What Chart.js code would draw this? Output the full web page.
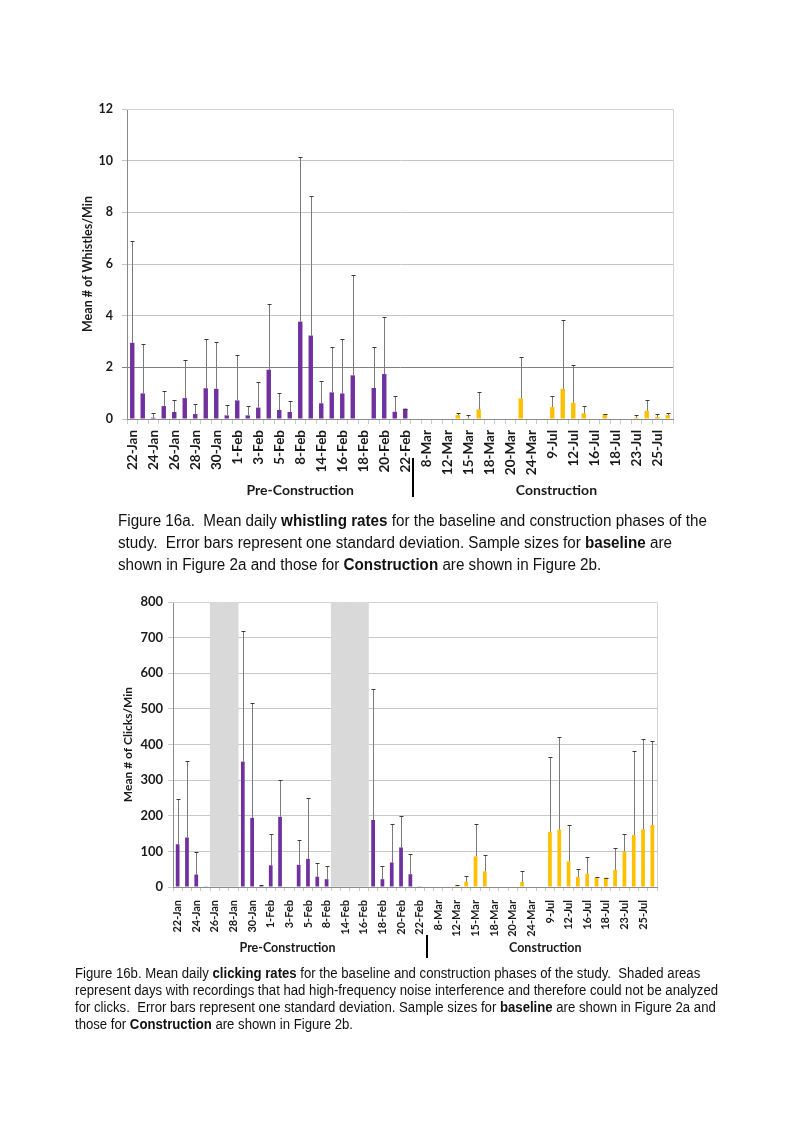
<!DOCTYPE html>
<html>
<head>
<meta charset="utf-8">
<script src="https://cdn.jsdelivr.net/npm/chart.js@4.4.1/dist/chart.umd.min.js"></script>
<style>
  html, body { margin: 0; padding: 0; background: #fff; }
  body { width: 793px; height: 1123px; position: relative; overflow: hidden; }
  canvas { position: absolute; left: 0; }
  #whistles { top: 0; }
  #clicks { top: 575px; }
  .caption { position: absolute; font-family: "Liberation Sans", Arial, sans-serif; color: #111; white-space: nowrap; transform-origin: 0 0; }
  #cap1 { left: 118px; top: 510px; font-size: 16px; line-height: 22px; transform: scaleX(0.95); }
  #cap2 { left: 75px; top: 965px; font-size: 14px; line-height: 17px; transform: scaleX(0.94); }
</style>
</head>
<body>
<canvas id="whistles" width="793" height="505"></canvas>
<canvas id="clicks" width="793" height="395"></canvas>
<div class="caption" id="cap1">Figure 16a.&nbsp; Mean daily <b>whistling rates</b> for the baseline and construction phases of the<br>study.&nbsp; Error bars represent one standard deviation. Sample sizes for <b>baseline</b> are<br>shown in Figure 2a and those for <b>Construction</b> are shown in Figure 2b.</div>
<div class="caption" id="cap2">Figure 16b. Mean daily <b>clicking rates</b> for the baseline and construction phases of the study.&nbsp; Shaded areas<br>represent days with recordings that had high-frequency noise interference and therefore could not be analyzed<br>for clicks.&nbsp; Error bars represent one standard deviation. Sample sizes for <b>baseline</b> are shown in Figure 2a and<br>those for <b>Construction</b> are shown in Figure 2b.</div>
<script>
// recording days, only every other one is labelled on the axis
const days = [
  '22-Jan', '', '24-Jan', '', '26-Jan', '', '28-Jan', '', '30-Jan', '', '1-Feb', '', '3-Feb', '',
  '5-Feb', '', '8-Feb', '', '14-Feb', '', '16-Feb', '', '18-Feb', '', '20-Feb', '', '22-Feb', '',
  '8-Mar', '', '12-Mar', '', '15-Mar', '', '18-Mar', '', '20-Mar', '', '24-Mar', '',
  '9-Jul', '', '12-Jul', '', '16-Jul', '', '18-Jul', '', '23-Jul', '', '25-Jul', ''
]
const phases = ['Pre-Construction', 'Construction']

// Fig 16a - whistles/min, mean and one standard deviation
const whistleBase = [
  2.95, 0.99, 0.05, 0.50, 0.27, 0.81, 0.19, 1.19, 1.17, 0.14, 0.72, 0.14, 0.44, 1.91,
  0.35, 0.27, 3.77, 3.23, 0.61, 1.03, 0.99, 1.69, null, 1.20, 1.74, 0.28, 0.40, null,
  null, null, null, null, null, null, null, null, null, null, null, null,
  null, null, null, null, null, null, null, null, null, null, null, null
]
const whistleBaseSd = [
  3.95, 1.93, 0.17, 0.58, 0.47, 1.47, 0.38, 1.89, 1.80, 0.40, 1.76, 0.38, 1.01, 2.53,
  0.67, 0.43, 6.38, 5.39, 0.86, 1.74, 2.09, 3.88, null, 1.57, 2.21, 0.62, 0.00, null,
  null, null, null, null, null, null, null, null, null, null, null, null,
  null, null, null, null, null, null, null, null, null, null, null, null
]
const whistleCons = [
  null, null, null, null, null, null, null, null, null, null, null, null, null, null,
  null, null, null, null, null, null, null, null, null, null, null, null, null, null,
  null, null, null, 0.15, 0.03, 0.37, null, null, null, 0.80, null, null,
  0.46, 1.17, 0.63, 0.22, null, 0.19, null, null, 0.05, 0.32, 0.08, 0.15
]
const whistleConsSd = [
  null, null, null, null, null, null, null, null, null, null, null, null, null, null,
  null, null, null, null, null, null, null, null, null, null, null, null, null, null,
  null, null, null, 0.10, 0.11, 0.68, null, null, null, 1.59, null, null,
  0.43, 2.65, 1.47, 0.28, null, 0.02, null, null, 0.12, 0.40, 0.12, 0.10
]

// Fig 16b - clicks/min, mean and one standard deviation
const clickBase = [
  120, 139, 35, 2, null, null, null, 352, 194, 3, 61, 197, null, 62,
  79, 29, 22, null, null, null, null, 188, 22, 69, 111, 36, 2, null,
  null, null, null, null, null, null, null, null, null, null, null, null,
  null, null, null, null, null, null, null, null, null, null, null, null
]
const clickBaseSd = [
  126, 214, 62, null, null, null, null, 367, 322, 3, 89, 102, null, 69,
  172, 38, 38, null, null, null, null, 368, 37, 109, 88, 56, null, null,
  null, null, null, null, null, null, null, null, null, null, null, null,
  null, null, null, null, null, null, null, null, null, null, null, null
]
const clickCons = [
  null, null, null, null, null, null, null, null, null, null, null, null, null, null,
  null, null, null, null, null, null, null, null, null, null, null, null, null, null,
  null, 1, 3, 15, 86, 44, null, null, null, 14, null, null,
  155, 161, 72, 28, 37, 27, 26, 48, 100, 146, 162, 174
]
const clickConsSd = [
  null, null, null, null, null, null, null, null, null, null, null, null, null, null,
  null, null, null, null, null, null, null, null, null, null, null, null, null, null,
  null, null, 2, 17, 90, 46, null, null, null, 30, null, null,
  210, 259, 103, 23, 47, 1, 0, 61, 50, 236, 253, 236
]
// days with high-frequency noise (shaded, clicks not analysed)
const noisyDays = [
  null, null, null, null, 800, 800, 800, null, null, null, null, null, null, null,
  null, null, null, 800, 800, 800, 800, null, null, null, null, null, null, null,
  null, null, null, null, null, null, null, null, null, null, null, null,
  null, null, null, null, null, null, null, null, null, null, null, null
]

const PURPLE = '#7030A0'
const GOLD = '#FFC000'

const errorBars = {
  id: 'errorBars',
  afterDatasetsDraw(chart) {
    const ctx = chart.ctx
    const y = chart.scales.y
    chart.data.datasets.forEach((ds, i) => {
      if (!ds.sd) return
      chart.getDatasetMeta(i).data.forEach((bar, j) => {
        const v = ds.data[j], s = ds.sd[j]
        if (v == null || s == null) return
        const x = Math.round(bar.x) + 0.5
        const top = Math.round(y.getPixelForValue(v + s)) + 0.5
        ctx.save()
        ctx.lineWidth = 1
        ctx.strokeStyle = '#7a7a7a'
        ctx.beginPath()
        ctx.moveTo(x, bar.y)
        ctx.lineTo(x, top)
        ctx.stroke()
        ctx.strokeStyle = '#3a3a3a'
        ctx.beginPath()
        ctx.moveTo(x - 2, top)
        ctx.lineTo(x + 2, top)
        ctx.stroke()
        ctx.restore()
      })
    })
  }
}

const plotFrame = {
  id: 'plotFrame',
  beforeDatasetsDraw(chart) {
    const { ctx, chartArea: a } = chart
    ctx.save()
    ctx.strokeStyle = '#d4d4d4'
    ctx.lineWidth = 1
    ctx.beginPath()
    ctx.moveTo(a.left, a.top + 0.5)
    ctx.lineTo(Math.round(a.right) + 0.5, a.top + 0.5)
    ctx.lineTo(Math.round(a.right) + 0.5, a.bottom)
    ctx.stroke()
    ctx.restore()
  }
}

const phaseLabels = {
  id: 'phaseLabels',
  afterDraw(chart, args, opts) {
    const ctx = chart.ctx
    const x = chart.scales.x
    ctx.save()
    ctx.font = opts.font
    ctx.fillStyle = '#1a1a1a'
    ctx.textAlign = 'center'
    ctx.textBaseline = 'middle'
    phases.forEach((p, k) => ctx.fillText(p, x.getPixelForValue(opts.at[k]), opts.y))
    const sx = Math.round(x.getPixelForValue(opts.divider))
    ctx.fillStyle = '#000'
    ctx.fillRect(sx - 1, opts.dividerTop, 2, opts.dividerBottom - opts.dividerTop)
    ctx.restore()
  }
}

const font = (size, weight) => ({ family: 'Lato, "Open Sans", sans-serif', size: size, weight: weight })

const configWhistles = {
  type: 'bar',
  data: {
    labels: days,
    datasets: [
      { data: whistleBase, sd: whistleBaseSd, backgroundColor: PURPLE, grouped: false },
      { data: whistleCons, sd: whistleConsSd, backgroundColor: GOLD, grouped: false }
    ]
  },
  options: {
    responsive: false,
    animation: false,
    barPercentage: 0.42,
    categoryPercentage: 1,
    layout: { padding: { left: 60, right: 120, top: 109, bottom: 26 } },
    plugins: {
      legend: { display: false },
      tooltip: { enabled: false },
      phaseLabels: { at: [16, 40.4], y: 490, divider: 26.75, dividerTop: 458, dividerBottom: 497, font: 'bold 14px Lato, sans-serif' }
    },
    scales: {
      x: {
        afterFit: s => { s.height = 60 },
        grid: { drawOnChartArea: false, drawTicks: true, tickLength: 5, color: '#c9c9c9' },
        border: { color: '#8c8c8c' },
        ticks: { autoSkip: false, maxRotation: 90, minRotation: 90, padding: 6, color: '#1a1a1a', font: font(13.5, 'bold') }
      },
      y: {
        min: 0, max: 12,
        afterFit: s => { s.width = 67 },
        grid: { color: c => c.tick && c.tick.value === 2 ? '#7f7f7f' : '#c4c4c4', tickLength: 5 },
        border: { color: '#8c8c8c' },
        ticks: { stepSize: 2, padding: 9, color: '#1a1a1a', font: font(12.5, 'bold') },
        title: { display: true, text: 'Mean # of Whistles/Min', color: '#1a1a1a', font: font(12.5, 'bold'), padding: { top: 20, bottom: 0 } }
      }
    }
  },
  plugins: [plotFrame, errorBars, phaseLabels]
}

const configClicks = {
  type: 'bar',
  data: {
    labels: days,
    datasets: [
      { data: noisyDays, backgroundColor: '#D9D9D9', grouped: false, barPercentage: 1, order: 3 },
      { data: clickBase, sd: clickBaseSd, backgroundColor: PURPLE, grouped: false, order: 1 },
      { data: clickCons, sd: clickConsSd, backgroundColor: GOLD, grouped: false, order: 1 }
    ]
  },
  options: {
    responsive: false,
    animation: false,
    barPercentage: 0.4,
    categoryPercentage: 1,
    layout: { padding: { left: 110, right: 136, top: 27, bottom: 23 } },
    plugins: {
      legend: { display: false },
      tooltip: { enabled: false },
      phaseLabels: { at: [11.8, 39.5], y: 373, divider: 26.75, dividerTop: 360, dividerBottom: 383, font: 'bold 12.5px Lato, sans-serif' }
    },
    scales: {
      x: {
        afterFit: s => { s.height = 60 },
        grid: { drawOnChartArea: false, drawTicks: true, tickLength: 4, color: '#c9c9c9' },
        border: { color: '#8c8c8c' },
        ticks: { autoSkip: false, maxRotation: 90, minRotation: 90, padding: 9, color: '#1a1a1a', font: font(11, 'bold') }
      },
      y: {
        min: 0, max: 800,
        afterFit: s => { s.width = 63 },
        grid: { color: '#c8c8c8', tickLength: 5 },
        border: { color: '#8c8c8c' },
        ticks: { stepSize: 100, padding: 5, color: '#1a1a1a', font: font(13, 'bold') },
        title: { display: true, text: 'Mean # of Clicks/Min', color: '#1a1a1a', font: font(12, 'bold'), padding: { top: 11, bottom: 0 } }
      }
    }
  },
  plugins: [plotFrame, errorBars, phaseLabels]
}

const chartWhistles = new Chart(document.getElementById('whistles'), configWhistles)
const chartClicks = new Chart(document.getElementById('clicks'), configClicks)
</script>
</body>
</html>
